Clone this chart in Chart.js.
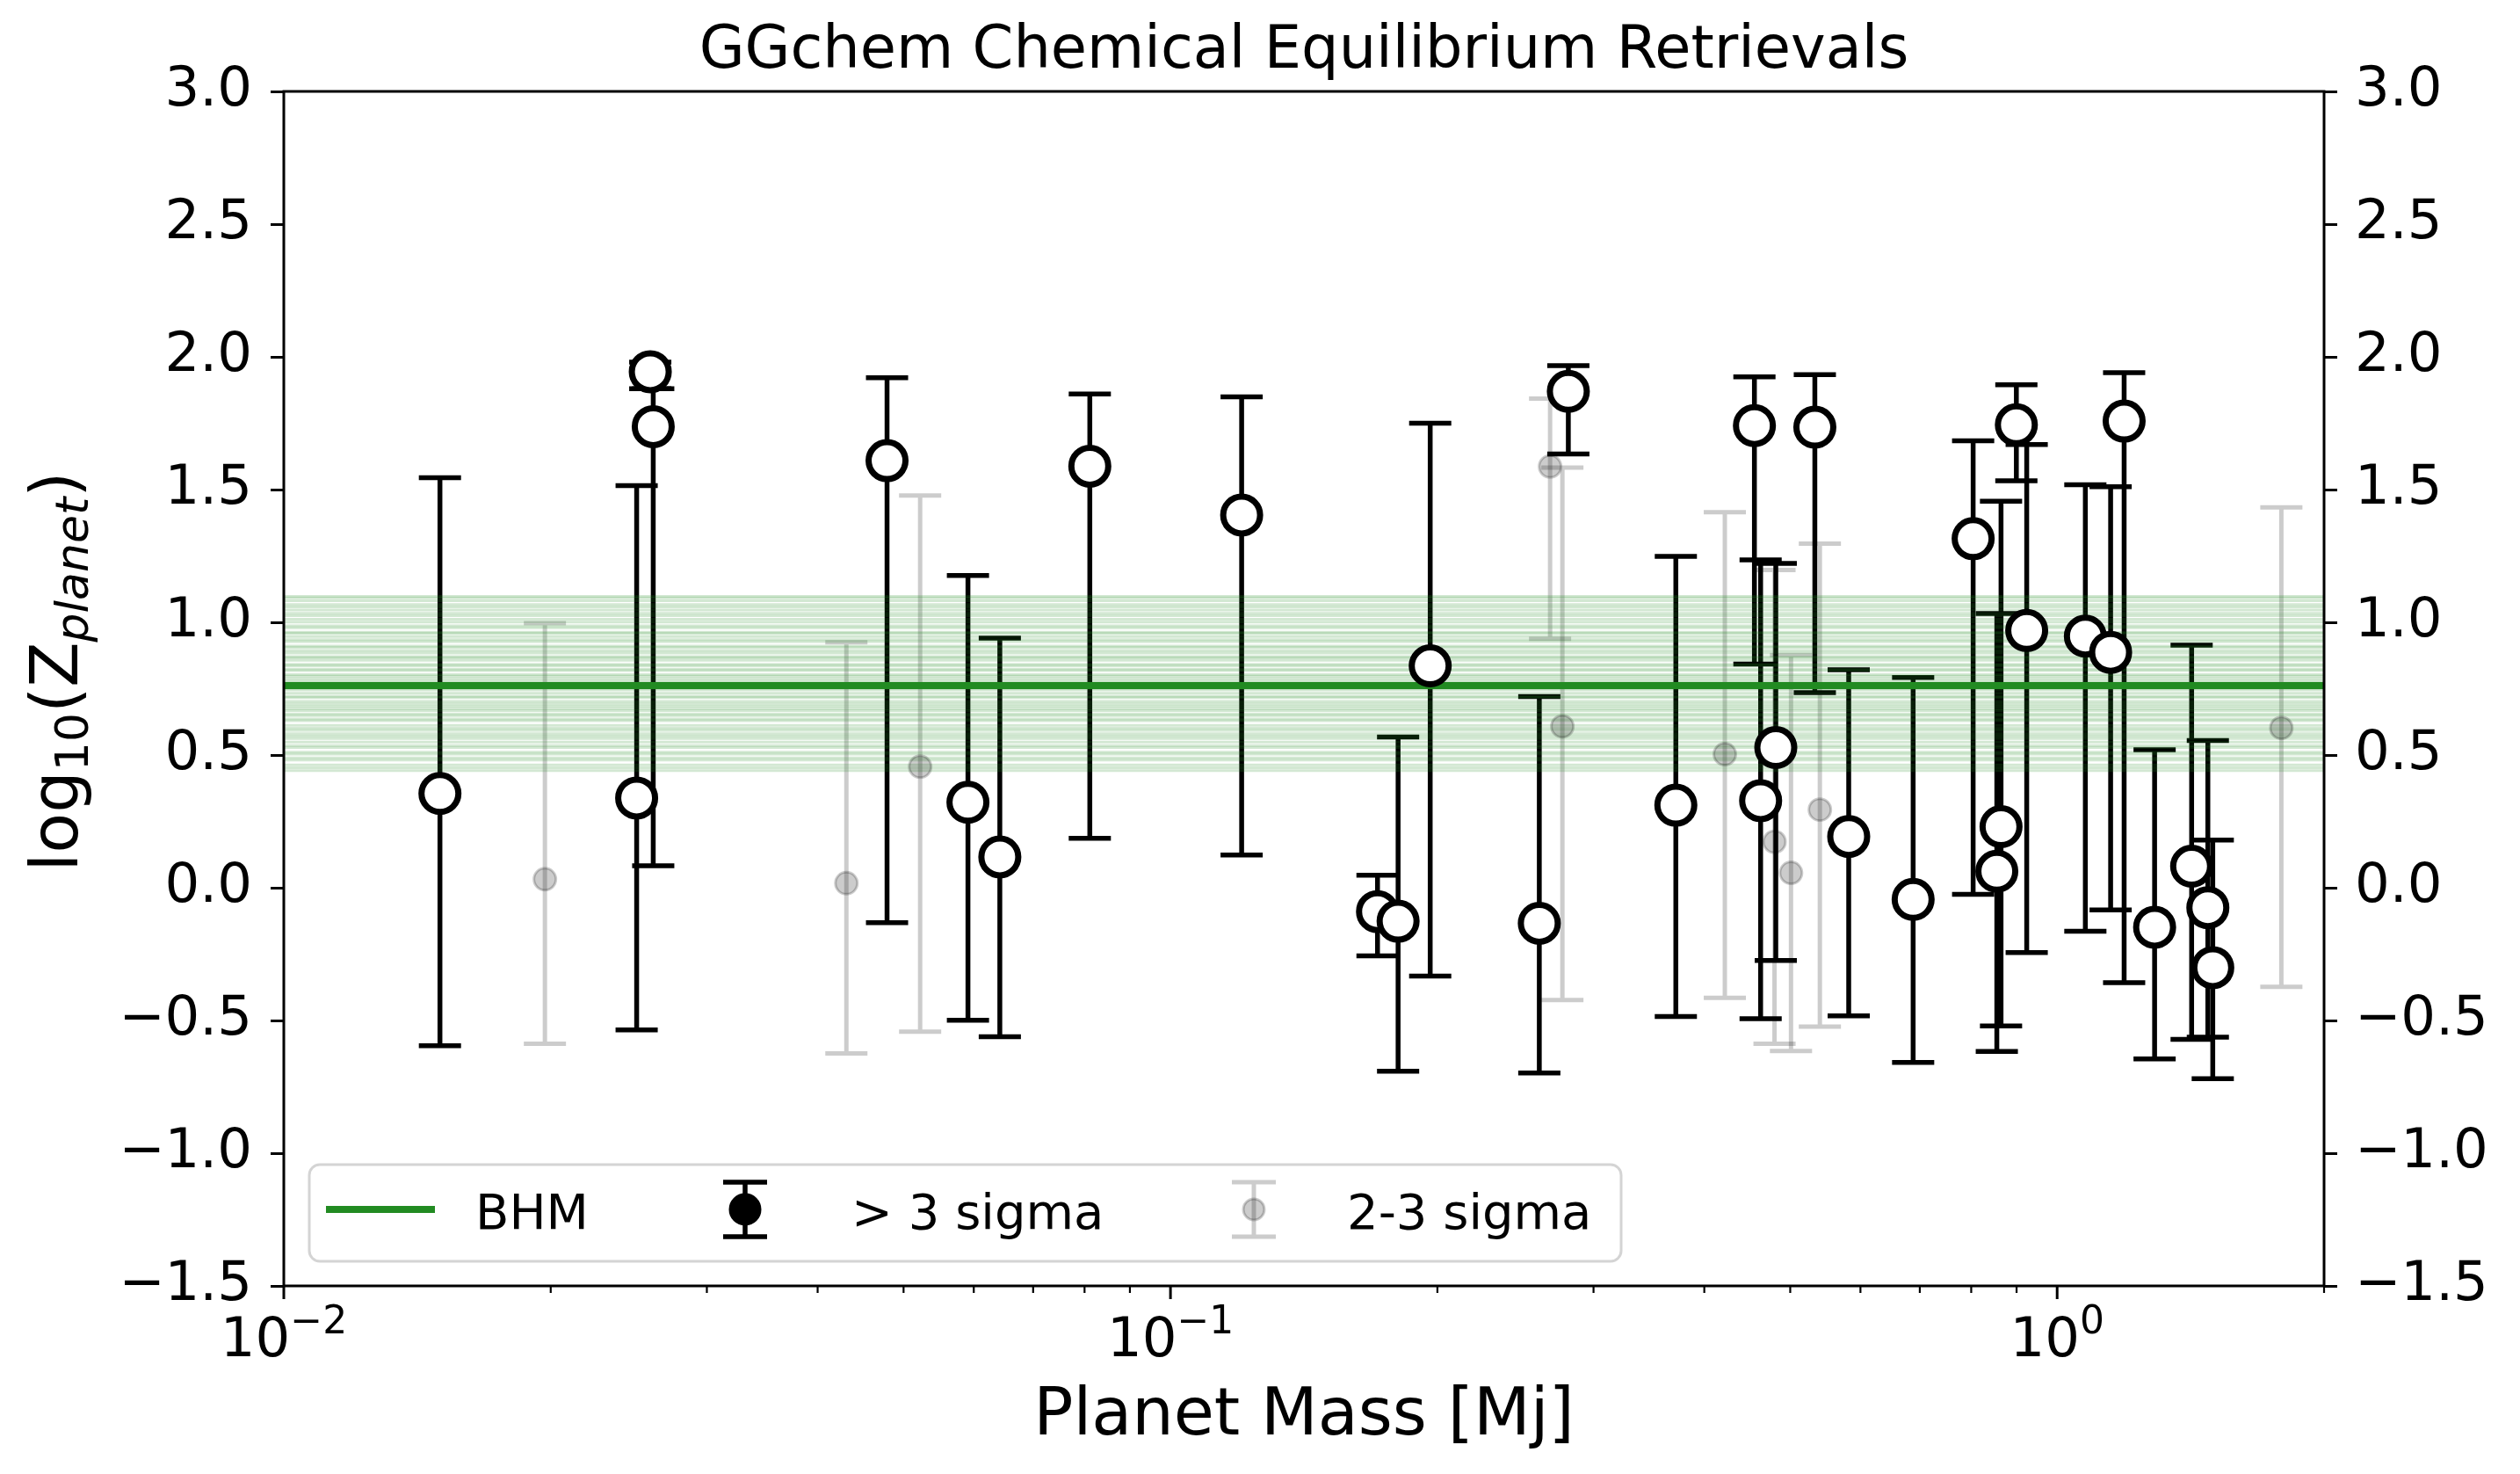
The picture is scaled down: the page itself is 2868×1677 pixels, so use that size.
<!DOCTYPE html>
<html>
<head>
<meta charset="utf-8">
<script src="https://cdn.jsdelivr.net/npm/chart.js@4.4.1/dist/chart.umd.min.js"></script>
<style>
html,body{margin:0;padding:0;background:#fff;}
</style>
</head>
<body>
<canvas id="myChart" width="2868" height="1677"></canvas>
<script>
// > 3 sigma detections: mass [Mj], log10(Z), upper end, lower end of error bar
var strongMass = [0.0150,0.0250,0.0259,0.0261,0.0479,0.0591,0.0642,0.0811,0.1203,0.1712,0.1806,0.1963,0.2606,0.281,0.3715,
  0.4556,0.463,0.4816,0.533,0.582,0.688,0.804,0.8644,0.855,0.8995,0.924,1.076,1.149,1.190,1.288,1.418,1.479,1.498];
var strongZ = [0.355,0.338,1.944,1.737,1.609,0.322,0.116,1.588,1.404,-0.090,-0.126,0.836,-0.134,1.870,0.311,
  1.741,0.328,0.528,1.735,0.193,-0.044,1.315,0.230,0.062,1.744,0.969,0.948,0.887,1.758,-0.149,0.081,-0.075,-0.301];
var strongTop = [1.545,1.515,1.980,1.880,1.921,1.176,0.940,1.860,1.849,0.047,0.568,1.750,0.720,1.967,1.248,
  1.925,1.235,1.222,1.933,0.821,0.792,1.684,1.456,1.033,1.895,1.670,1.518,1.511,1.940,0.520,0.914,0.555,0.180];
var strongBot = [-0.595,-0.536,1.880,0.083,-0.132,-0.499,-0.561,0.186,0.123,-0.257,-0.691,-0.333,-0.698,1.634,-0.485,
  0.843,-0.493,-0.274,0.735,-0.483,-0.658,-0.025,-0.521,-0.617,1.533,-0.244,-0.164,-0.084,-0.358,-0.645,-0.571,-0.563,-0.719];

// 2-3 sigma detections
var weakMass = [0.0197,0.0431,0.0522,0.268,0.2767,0.4219,0.480,0.501,0.540,1.79];
var weakZ = [0.032,0.017,0.456,1.587,0.608,0.503,0.173,0.056,0.294,0.602];
var weakTop = [0.997,0.925,1.478,1.843,1.583,1.415,1.197,0.877,1.296,1.433];
var weakBot = [-0.588,-0.624,-0.542,0.938,-0.423,-0.415,-0.588,-0.615,-0.523,-0.373];

// BHM result and posterior draws
var bhmValue = 0.762;
var bhmSamples = [0.441,0.452,0.463,0.481,0.489,0.503,0.511,0.528,0.536,0.549,0.562,0.571,0.580,0.593,0.601,
  0.612,0.629,0.636,0.648,0.655,0.667,0.675,0.684,0.693,0.702,0.716,0.721,0.733,0.745,0.752,0.758,0.771,0.779,
  0.788,0.797,0.803,0.818,0.824,0.836,0.842,0.857,0.866,0.871,0.884,0.893,0.905,0.911,0.927,0.935,0.946,0.958,
  0.963,0.979,0.987,1.001,1.012,1.025,1.034,1.046,1.058,1.067,1.081,1.092,1.098];

var xMajor = [0.01, 0.1, 1];
var xMajorLabels = [['10','\u22122'],['10','\u22121'],['10','0']];

var FONT = "'DejaVu Sans', sans-serif";
var GREEN = '#228B22';

function pts(xs, ys) {
  return xs.map(function (x, i) { return {x: x, y: ys[i]}; });
}

var datasets = [
  {label:'> 3 sigma', data: pts(strongMass, strongZ), pointRadius:21, pointHoverRadius:21, borderWidth:7,
   borderColor:'#000', backgroundColor:'#fff', order:0},
  {label:'2-3 sigma', data: pts(weakMass, weakZ), pointRadius:12.5, pointHoverRadius:12.5, borderWidth:3,
   borderColor:'rgba(0,0,0,0.2)', backgroundColor:'rgba(0,0,0,0.2)', order:1},
  {label:'BHM', data:[{x:0.01,y:bhmValue},{x:2,y:bhmValue}], showLine:true, borderColor:GREEN, borderWidth:8,
   pointRadius:0, order:2}
];
bhmSamples.forEach(function (v) {
  datasets.push({label:'sample', data:[{x:0.01,y:v},{x:2,y:v}], showLine:true,
    borderColor:'rgba(34,139,34,0.2)', borderWidth:3, pointRadius:0, order:3});
});

var chartX, chartY;
function drawBars(ctx, xs, ys, top, bot, color, lw, capHalf) {
  ctx.save();
  ctx.strokeStyle = color;
  ctx.lineWidth = lw;
  xs.forEach(function (m, i) {
    var px = chartX.getPixelForValue(m);
    var pt = chartY.getPixelForValue(top[i]);
    var pb = chartY.getPixelForValue(bot[i]);
    ctx.beginPath();
    ctx.moveTo(px, pt); ctx.lineTo(px, pb);
    ctx.moveTo(px - capHalf, pt); ctx.lineTo(px + capHalf, pt);
    ctx.moveTo(px - capHalf, pb); ctx.lineTo(px + capHalf, pb);
    ctx.stroke();
  });
  ctx.restore();
}

var errorBars = {
  id: 'errorBars',
  beforeDatasetsDraw: function (chart) {
    chartX = chart.scales.x; chartY = chart.scales.y;
    var ctx = chart.ctx, a = chart.chartArea;
    ctx.save();
    ctx.beginPath(); ctx.rect(a.left, a.top, a.right - a.left, a.bottom - a.top); ctx.clip();
    drawBars(ctx, weakMass, weakZ, weakTop, weakBot, 'rgba(0,0,0,0.2)', 5, 24);
    drawBars(ctx, strongMass, strongZ, strongTop, strongBot, '#000', 5.5, 24);
    ctx.restore();
  }
};

var decorations = {
  id: 'decorations',
  afterDraw: function (chart) {
    var ctx = chart.ctx, a = chart.chartArea, sx = chart.scales.x;
    var cx = (a.left + a.right) / 2;
    ctx.save();
    // frame
    ctx.strokeStyle = '#000'; ctx.lineWidth = 3;
    ctx.strokeRect(a.left, a.top, a.right - a.left, a.bottom - a.top);

    // x ticks
    xMajor.forEach(function (d) {
      for (var k = 2; k <= 9; k++) {
        var v = k * d;
        if (v > 2.0001) continue;
        var p = sx.getPixelForValue(v);
        ctx.lineWidth = 2.2;
        ctx.beginPath(); ctx.moveTo(p, a.bottom); ctx.lineTo(p, a.bottom + 8); ctx.stroke();
      }
    });
    ctx.fillStyle = '#000';
    xMajor.forEach(function (v, i) {
      var p = sx.getPixelForValue(v);
      ctx.lineWidth = 3;
      ctx.beginPath(); ctx.moveTo(p, a.bottom); ctx.lineTo(p, a.bottom + 15); ctx.stroke();
      var base = xMajorLabels[i][0], sup = xMajorLabels[i][1];
      ctx.font = '62.5px ' + FONT;
      var wb = ctx.measureText(base).width;
      ctx.font = '44px ' + FONT;
      var ws = ctx.measureText(sup).width;
      var x0 = p - (wb + ws) / 2;
      ctx.textAlign = 'left'; ctx.textBaseline = 'alphabetic';
      ctx.font = '62.5px ' + FONT;
      ctx.fillText(base, x0, 1543);
      ctx.font = '44px ' + FONT;
      ctx.fillText(sup, x0 + wb, 1517);
    });

    // title
    ctx.textAlign = 'center';
    ctx.font = '67px ' + FONT;
    ctx.fillText('GGchem Chemical Equilibrium Retrievals', cx, 77);

    // x axis title
    ctx.font = '75px ' + FONT;
    ctx.fillText('Planet Mass [Mj]', cx, 1632);

    // y axis title with subscripts
    var parts = [
      {t:'log', f:'75px ' + FONT, dy:0},
      {t:'10', f:'52px ' + FONT, dy:12},
      {t:'(Z', f:'75px ' + FONT, dy:0},
      {t:'planet', f:'italic 52px ' + FONT, dy:12},
      {t:')', f:'75px ' + FONT, dy:0}
    ];
    var total = 0;
    parts.forEach(function (q) { ctx.font = q.f; q.w = ctx.measureText(q.t).width; total += q.w; });
    ctx.save();
    ctx.translate(88, 764);
    ctx.rotate(-Math.PI / 2);
    ctx.textAlign = 'left';
    var xx = -total / 2;
    parts.forEach(function (q) { ctx.font = q.f; ctx.fillText(q.t, xx, q.dy); xx += q.w; });
    ctx.restore();

    // legend
    var lx = 352, ly = 1325, lw = 1493, lh = 110, r = 12;
    ctx.beginPath();
    ctx.moveTo(lx + r, ly);
    ctx.arcTo(lx + lw, ly, lx + lw, ly + lh, r);
    ctx.arcTo(lx + lw, ly + lh, lx, ly + lh, r);
    ctx.arcTo(lx, ly + lh, lx, ly, r);
    ctx.arcTo(lx, ly, lx + lw, ly, r);
    ctx.closePath();
    ctx.fillStyle = 'rgba(255,255,255,0.8)';
    ctx.fill();
    ctx.strokeStyle = '#d4d4d4'; ctx.lineWidth = 3;
    ctx.stroke();

    var my = 1376;
    ctx.strokeStyle = GREEN; ctx.lineWidth = 8;
    ctx.beginPath(); ctx.moveTo(371, my); ctx.lineTo(495, my); ctx.stroke();

    function legendBar(x, color, lw, rad) {
      ctx.strokeStyle = color; ctx.lineWidth = lw;
      ctx.beginPath();
      ctx.moveTo(x, my - 31); ctx.lineTo(x, my + 31);
      ctx.moveTo(x - 25, my - 31); ctx.lineTo(x + 25, my - 31);
      ctx.moveTo(x - 25, my + 31); ctx.lineTo(x + 25, my + 31);
      ctx.stroke();
      ctx.beginPath(); ctx.arc(x, my, rad, 0, Math.PI * 2);
      ctx.fillStyle = color; ctx.fill();
      ctx.lineWidth = 3; ctx.stroke();
    }
    legendBar(848, '#000', 5.5, 17);
    legendBar(1427, 'rgba(0,0,0,0.2)', 5, 12);

    ctx.fillStyle = '#000';
    ctx.textAlign = 'left';
    ctx.font = '56px ' + FONT;
    ctx.fillText('BHM', 541, 1398);
    ctx.fillText('> 3 sigma', 969, 1398);
    ctx.fillText('2-3 sigma', 1533, 1398);
    ctx.restore();
  }
};

function yLabel(v) {
  return v.toFixed(1).replace('-', '\u2212');
}
var yTickFont = {family: FONT, size: 62.5};

new Chart(document.getElementById('myChart'), {
  type: 'scatter',
  data: {datasets: datasets},
  options: {
    responsive: false,
    devicePixelRatio: 1,
    animation: false,
    layout: {padding: {top: 104, left: 0, right: 0, bottom: 0}},
    plugins: {legend: {display: false}, tooltip: {enabled: false}, title: {display: false}},
    scales: {
      x: {
        type: 'logarithmic', min: 0.01, max: 2,
        grid: {display: false}, border: {display: false},
        ticks: {display: false},
        afterFit: function (s) { s.height = 214; }
      },
      y: {
        type: 'linear', position: 'left', min: -1.5, max: 3,
        grid: {drawOnChartArea: false, drawTicks: true, tickLength: 15, tickWidth: 3, tickColor: '#000'},
        border: {display: false},
        ticks: {stepSize: 0.5, color: '#000', font: yTickFont, padding: 21, callback: yLabel},
        afterFit: function (s) { s.width = 323; }
      },
      y2: {
        type: 'linear', position: 'right', min: -1.5, max: 3,
        grid: {drawOnChartArea: false, drawTicks: true, tickLength: 15, tickWidth: 3, tickColor: '#000'},
        border: {display: false},
        ticks: {stepSize: 0.5, color: '#000', font: yTickFont, padding: 20, callback: yLabel},
        afterFit: function (s) { s.width = 223; }
      }
    }
  },
  plugins: [errorBars, decorations]
});
</script>
</body>
</html>
